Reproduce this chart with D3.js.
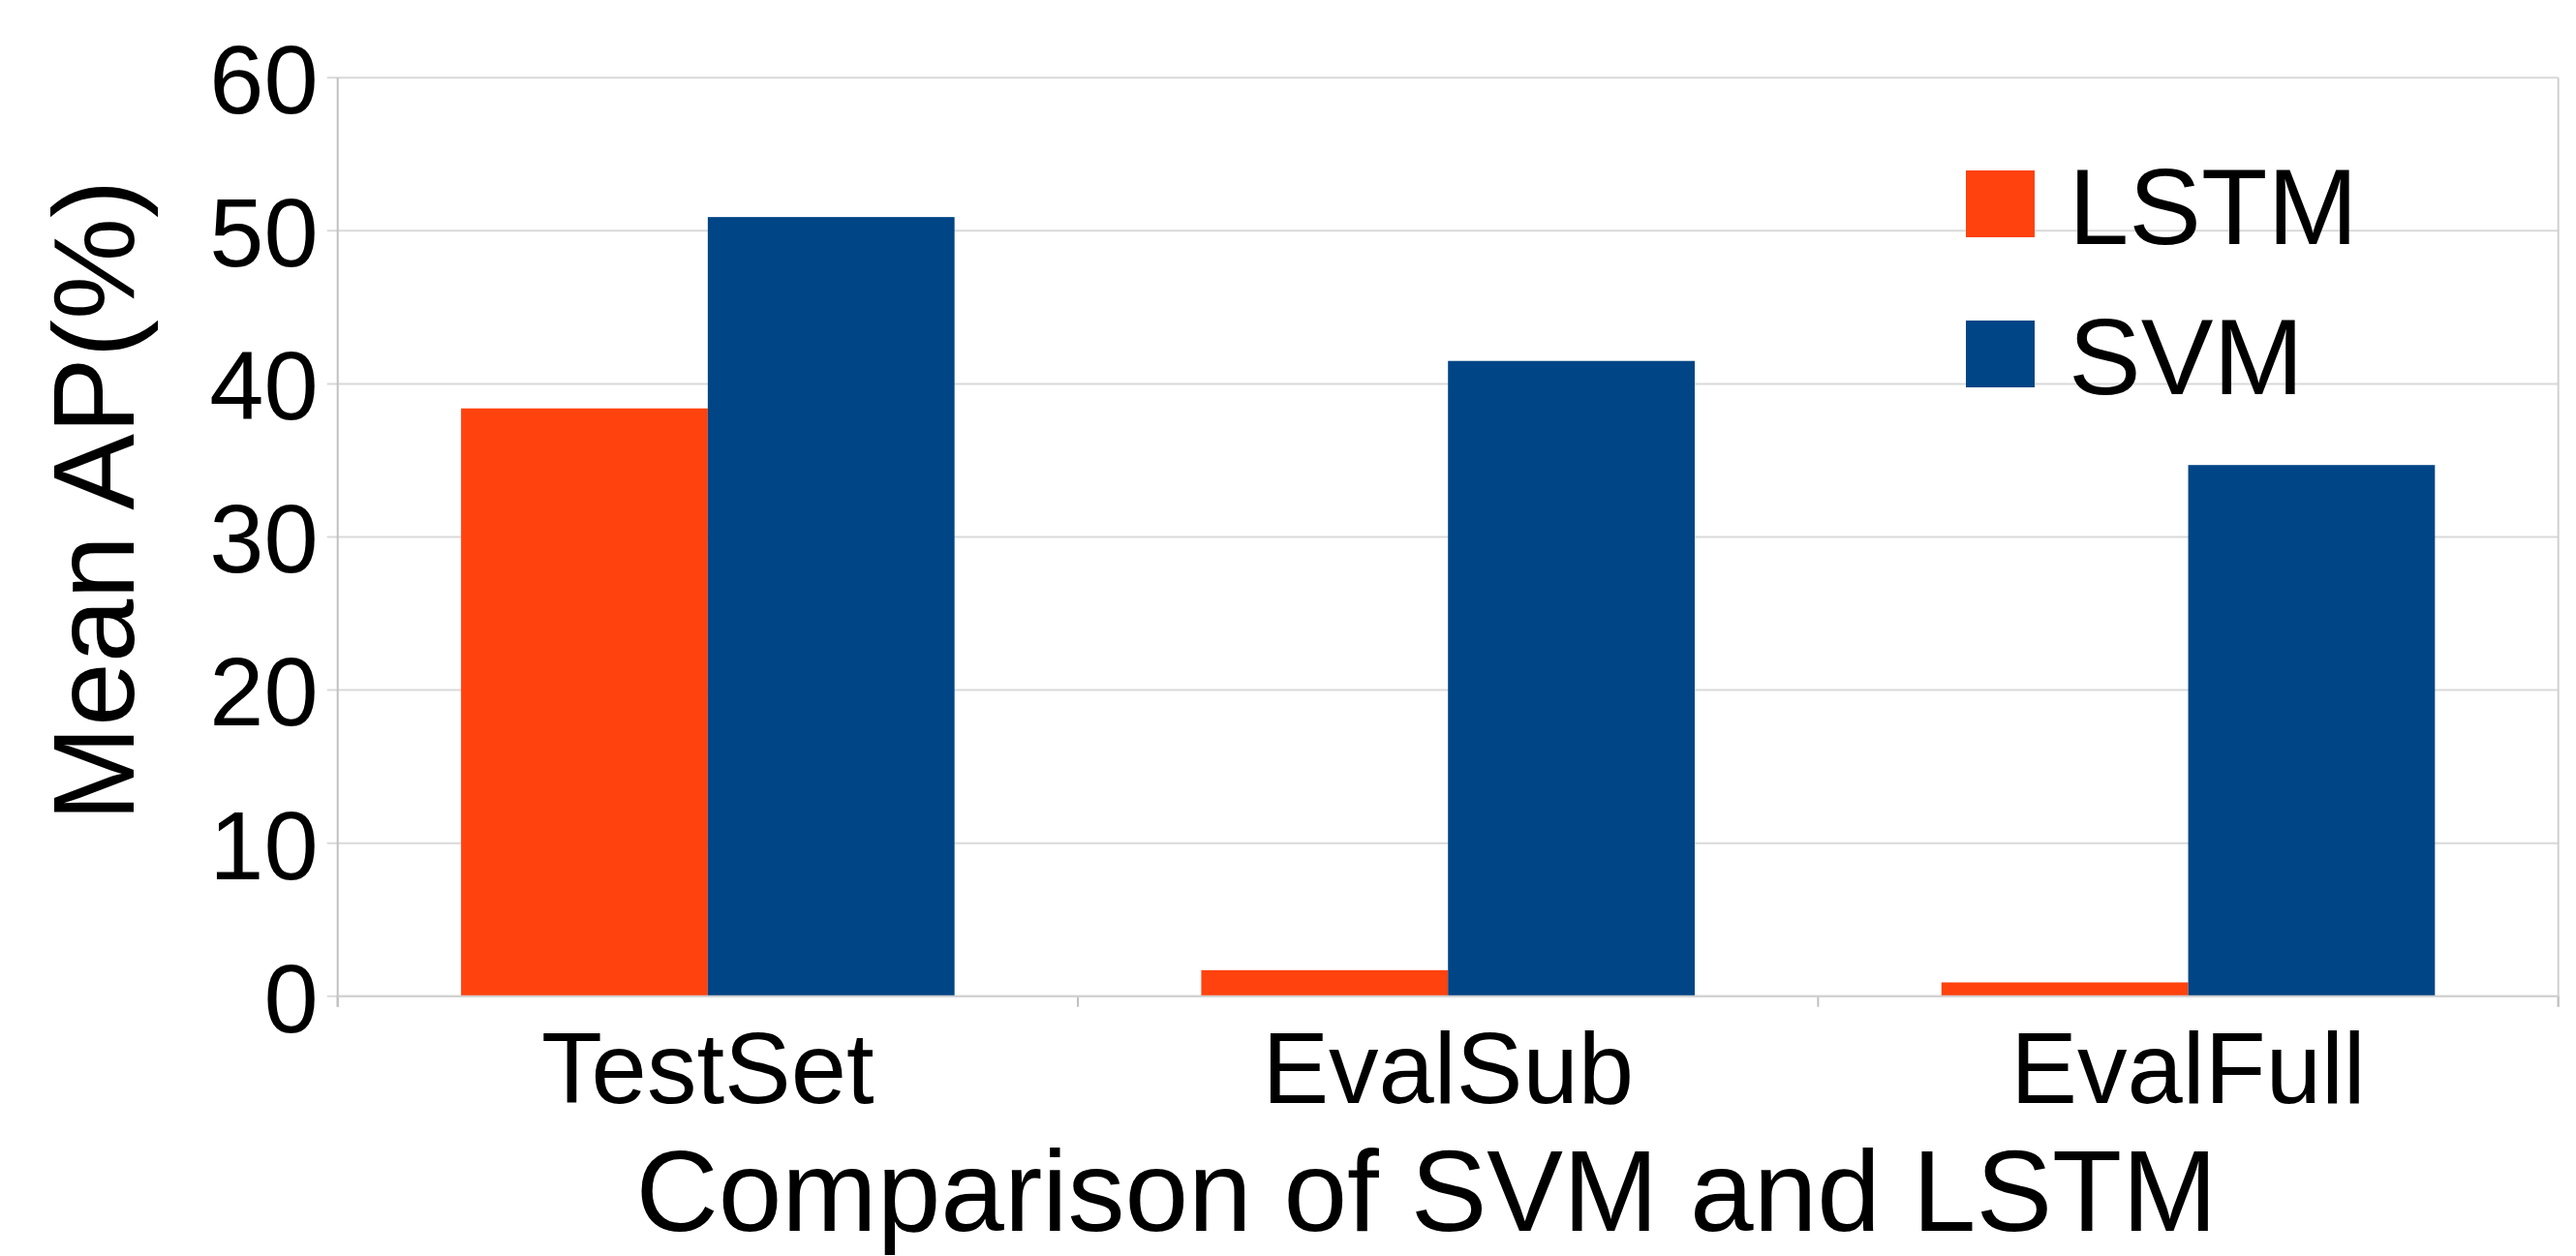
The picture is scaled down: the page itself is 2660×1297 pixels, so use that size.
<!DOCTYPE html>
<html>
<head>
<meta charset="utf-8">
<script src="https://cdn.jsdelivr.net/npm/d3@7"></script>
<style>
  body { margin: 0; background: #fff; }
  text { font-family: "Liberation Sans", Arial, sans-serif; fill: #000; }
</style>
</head>
<body>
<div class="container"></div>
<script>
// data
var categories = ["TestSet", "EvalSub", "EvalFull"];
var seriesNames = ["LSTM", "SVM"];
var lstmValues = [38.4, 1.7, 0.9];
var svmValues = [50.9, 41.5, 34.7];
var yTicks = [0, 10, 20, 30, 40, 50, 60];

var seriesColors = { LSTM: "#ff420e", SVM: "#004586" };

const WIDTH = 2660;
const HEIGHT = 1297;
const LEFT = 348.7, RIGHT = 2641.7, TOP = 80.3, BOTTOM = 1028.7;

var translate = function(x, y){
  return "translate(" + x + "," + y + ")";
};

var rows = categories.map(function(c, i){
  return { cat: c, LSTM: lstmValues[i], SVM: svmValues[i] };
});

var xScale = d3.scaleBand()
  .domain(categories)
  .range([LEFT, RIGHT])
  .paddingInner(0)
  .paddingOuter(0);

var bw = xScale.bandwidth();
var xInner = d3.scaleBand()
  .domain(seriesNames)
  .range([bw / 6, bw * 5 / 6])
  .padding(0);

var yScale = d3.scaleLinear()
  .domain([0, 60])
  .range([BOTTOM, TOP]);

var svg = d3.select(".container").append("svg")
  .attr("width", WIDTH)
  .attr("height", HEIGHT);

// gridlines
svg.append("g")
  .selectAll("line")
  .data(yTicks)
  .enter().append("line")
  .attr("x1", LEFT - 11)
  .attr("x2", RIGHT)
  .attr("y1", function(d){ return yScale(d); })
  .attr("y2", function(d){ return yScale(d); })
  .attr("stroke", "#d9d9d9")
  .attr("stroke-width", 2);

// right border of plot area
svg.append("line")
  .attr("x1", RIGHT).attr("x2", RIGHT)
  .attr("y1", TOP).attr("y2", BOTTOM + 11)
  .attr("stroke", "#d0d0d0")
  .attr("stroke-width", 2);

// y axis
var yAxis = d3.axisLeft(yScale)
  .tickValues(yTicks)
  .tickFormat(d3.format("d"))
  .tickSize(0)
  .tickPadding(20);

var gy = svg.append("g")
  .attr("transform", translate(LEFT, 0))
  .call(yAxis);
gy.select(".domain").remove();
gy.selectAll("text")
  .attr("font-size", 101)
  .attr("font-family", "Liberation Sans, Arial, sans-serif")
  .attr("fill", "#000")
  .attr("dy", "0.36em");

svg.append("line")
  .attr("x1", LEFT).attr("x2", LEFT)
  .attr("y1", TOP).attr("y2", BOTTOM + 11)
  .attr("stroke", "#c0c0c0")
  .attr("stroke-width", 2);

// bars
var groups = svg.append("g")
  .selectAll("g")
  .data(rows)
  .enter().append("g")
  .attr("transform", function(d){ return translate(xScale(d.cat), 0); });

groups.selectAll("rect")
  .data(function(d){ return seriesNames.map(function(s){ return { key: s, value: d[s] }; }); })
  .enter().append("rect")
  .attr("x", function(d){ return xInner(d.key); })
  .attr("y", function(d){ return yScale(d.value); })
  .attr("width", xInner.bandwidth())
  .attr("height", function(d){ return BOTTOM - yScale(d.value); })
  .attr("fill", function(d){ return seriesColors[d.key]; });

// x axis
var xAxis = d3.axisBottom(xScale)
  .tickSize(0)
  .tickPadding(0);

var gx = svg.append("g")
  .attr("transform", translate(0, BOTTOM))
  .call(xAxis);
gx.select(".domain").remove();
gx.selectAll("text")
  .attr("font-size", 103)
  .attr("font-family", "Liberation Sans, Arial, sans-serif")
  .attr("fill", "#000")
  .attr("dy", null)
  .attr("y", 1139.3 - BOTTOM);

// band boundary ticks
var bounds = categories.map(function(c){ return xScale(c); }).concat([RIGHT]);
svg.append("g")
  .selectAll("line")
  .data(bounds)
  .enter().append("line")
  .attr("x1", function(d){ return d; })
  .attr("x2", function(d){ return d; })
  .attr("y1", BOTTOM)
  .attr("y2", BOTTOM + 11)
  .attr("stroke", "#c0c0c0")
  .attr("stroke-width", 2);

// x axis line
svg.append("line")
  .attr("x1", LEFT).attr("x2", RIGHT)
  .attr("y1", BOTTOM).attr("y2", BOTTOM)
  .attr("stroke", "#d0d0d0")
  .attr("stroke-width", 2);

// titles
svg.append("text")
  .attr("x", 1473)
  .attr("y", 1271)
  .attr("text-anchor", "middle")
  .attr("font-size", 118)
  .text("Comparison of SVM and LSTM");

svg.append("text")
  .attr("transform", translate(138, 517) + " rotate(-90)")
  .attr("text-anchor", "middle")
  .attr("font-size", 118)
  .text("Mean AP(%)");

// legend
var legend = svg.append("g")
  .selectAll("g")
  .data(seriesNames)
  .enter().append("g")
  .attr("transform", function(d, i){ return translate(2030, 176 + i * 155); });

legend.append("rect")
  .attr("width", 71)
  .attr("height", 69)
  .attr("fill", function(d){ return seriesColors[d]; });

legend.append("text")
  .attr("x", 106)
  .attr("y", 75.7)
  .attr("font-size", 112)
  .text(function(d){ return d; });
</script>
</body>
</html>
